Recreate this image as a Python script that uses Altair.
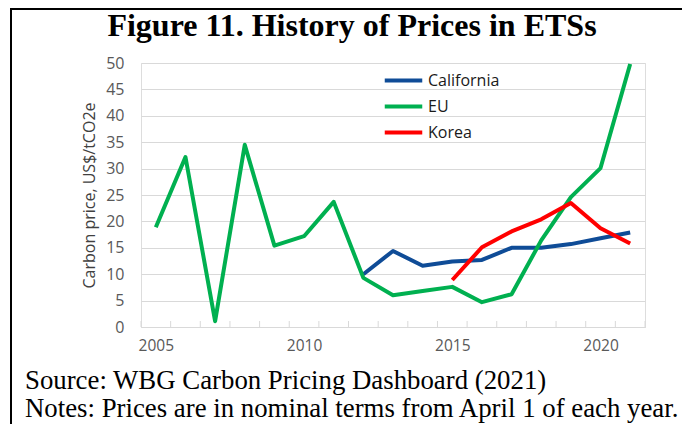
import altair as alt
import pandas as pd

years = list(range(2005, 2022))
eu = [18.9, 32.2, 1.1, 34.5, 15.4, 17.2, 23.7, 9.3, 6.0, 6.8, 7.6, 4.7, 6.2, 16.4, 24.6, 30.1, 49.8]
cal_years = list(range(2012, 2022))
california = [10.0, 14.4, 11.6, 12.4, 12.7, 15.0, 15.0, 15.7, 16.8, 17.9]
korea_years = list(range(2015, 2022))
korea = [8.9, 15.1, 18.1, 20.4, 23.5, 18.7, 15.8]

series = ["California", "EU", "Korea"]
colors = ["#0F4C97", "#00B050", "#FF0000"]
y_ticks = list(range(0, 51, 5))
x_labels = [2005, 2010, 2015, 2020]

title_text = "Figure 11. History of Prices in ETSs"
source_text = "Source: WBG Carbon Pricing Dashboard (2021)"
notes_text = "Notes: Prices are in nominal terms from April 1 of each year."
y_title = "Carbon price, US$/tCO2e"

rows = []
for yr, v in zip(cal_years, california):
    rows.append({"year": yr, "price": v, "series": "California"})
for yr, v in zip(years, eu):
    rows.append({"year": yr, "price": v, "series": "EU"})
for yr, v in zip(korea_years, korea):
    rows.append({"year": yr, "price": v, "series": "Korea"})
df = pd.DataFrame(rows)

tick_df = pd.DataFrame({"pos": [y - 0.5 for y in years] + [years[-1] + 0.5]})
one = pd.DataFrame({"a": [0]})

W, H = 504, 264
GRID = "#D9D9D9"
LAB = "#595959"
SANS = "Open Sans"
SERIF = "Liberation Serif"

xscale = alt.Scale(domain=[years[0] - 0.5, years[-1] + 0.5], nice=False, zero=False)
yscale = alt.Scale(domain=[0, 50], nice=False)

lines = alt.Chart(df).mark_line(strokeWidth=4, strokeJoin="round").encode(
    x=alt.X("year:Q", scale=xscale,
            axis=alt.Axis(values=x_labels, format="d", grid=False, ticks=False,
                          domain=True, domainColor=GRID, domainWidth=1,
                          labelFont=SANS, labelFontSize=15.5, labelColor=LAB,
                          labelPadding=11, title=None)),
    y=alt.Y("price:Q", scale=yscale,
            axis=alt.Axis(values=y_ticks, grid=True, gridColor=GRID, gridWidth=1,
                          domain=False, ticks=False, labelFont=SANS, labelFontSize=16,
                          labelColor=LAB, labelPadding=17, title=y_title,
                          titleFont=SANS, titleFontSize=16, titleFontWeight="normal",
                          titleColor="#404040", titlePadding=8)),
    color=alt.Color("series:N", scale=alt.Scale(domain=series, range=colors),
                    legend=alt.Legend(orient="none", legendX=253, legendY=8, title=None,
                                      symbolType="M-2.5,0H2.5", symbolSize=225,
                                      symbolStrokeWidth=4, labelOffset=15,
                                      labelFont=SANS, labelFontSize=16,
                                      labelColor="#1A1A1A", rowPadding=8,
                                      padding=0)),
    detail="series:N",
)

ticks = alt.Chart(tick_df).mark_rule(color=GRID, strokeWidth=1).encode(
    x=alt.X("pos:Q", scale=xscale),
    y=alt.value(H - 6),
    y2=alt.value(H),
)

title = alt.Chart(one).mark_text(font=SERIF, fontSize=32, fontWeight="bold",
                                 align="center", baseline="alphabetic", color="#000000").encode(
    x=alt.value(211), y=alt.value(-27), text=alt.value(title_text))

source = alt.Chart(one).mark_text(font=SERIF, fontSize=26.8, align="left",
                                  baseline="alphabetic", color="#000000").encode(
    x=alt.value(-116), y=alt.value(326), text=alt.value(source_text))

notes = alt.Chart(one).mark_text(font=SERIF, fontSize=26.8, align="left",
                                 baseline="alphabetic", color="#000000").encode(
    x=alt.value(-116), y=alt.value(354), text=alt.value(notes_text))

frame_left = alt.Chart(one).mark_rule(color="#000000", strokeWidth=2).encode(
    x=alt.value(-130), y=alt.value(-55), y2=alt.value(365))
frame_top = alt.Chart(one).mark_rule(color="#000000", strokeWidth=2).encode(
    x=alt.value(-131), x2=alt.value(541), y=alt.value(-54))

chart = alt.layer(ticks, lines, title, source, notes, frame_left, frame_top).properties(
    width=W, height=H,
    autosize=alt.AutoSizeParams(type="none"),
    padding={"left": 133, "top": 55, "right": 37, "bottom": 97},
).configure_view(stroke=None).configure(background="white")

chart.save("out.html", embed_options={"renderer": "svg", "actions": False})
